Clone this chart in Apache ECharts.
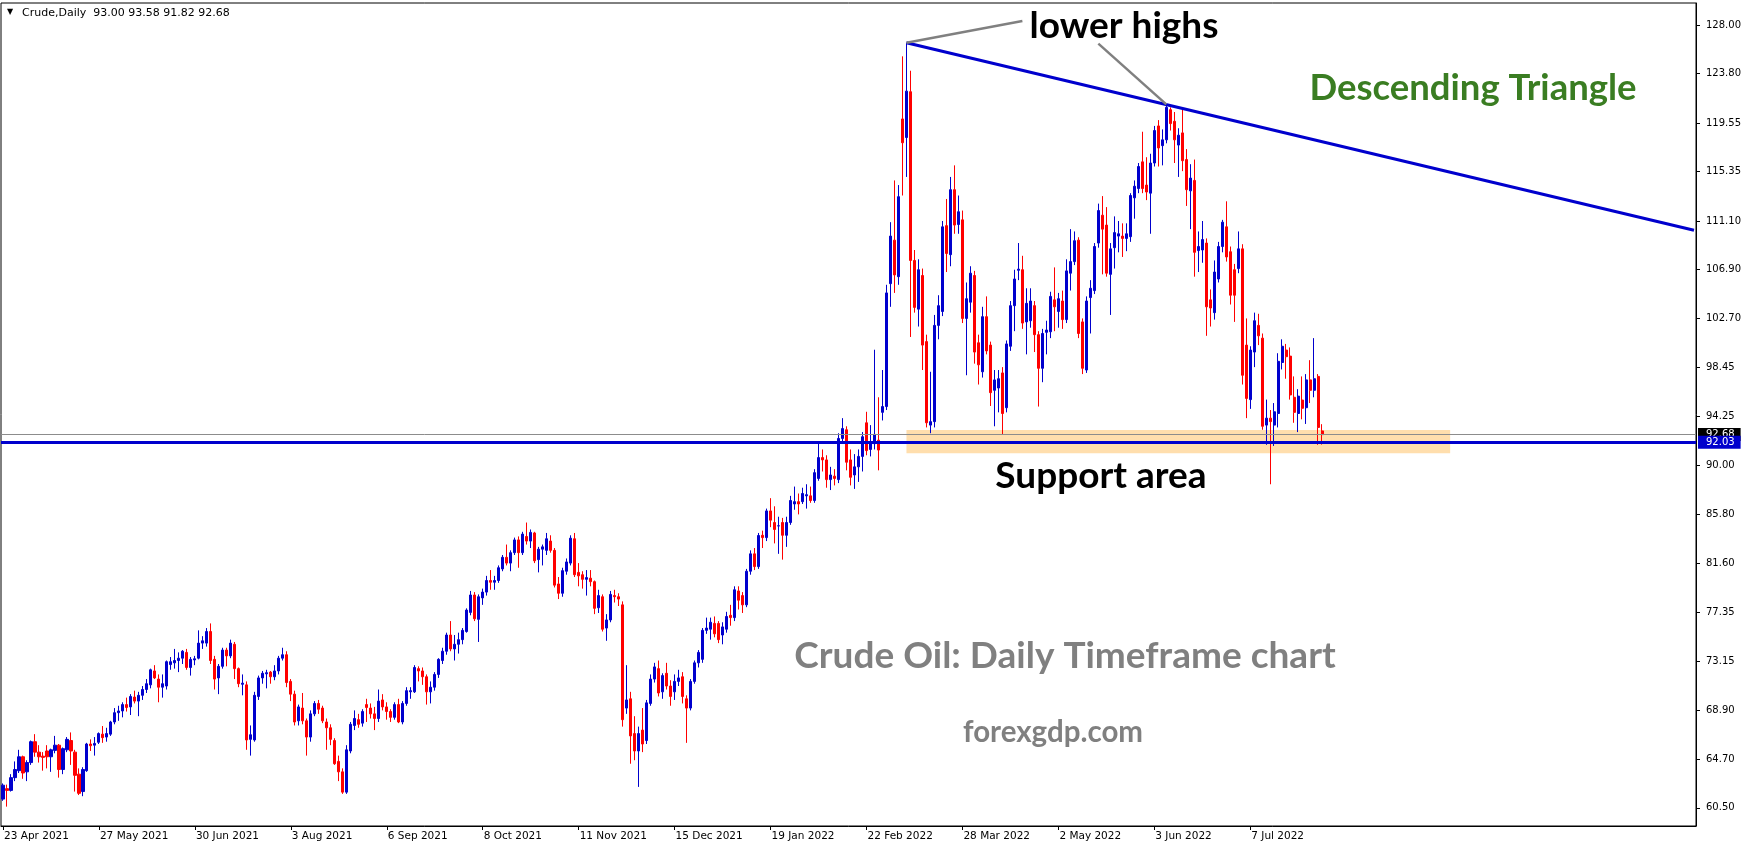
<!DOCTYPE html>
<html>
<head>
<meta charset="utf-8">
<script src="https://cdn.jsdelivr.net/npm/echarts@6/dist/echarts.min.js"></script>
<style>
html,body{margin:0;padding:0;background:#fff;}
#chart{width:1746px;height:850px;}
</style>
</head>
<body>
<div id="chart"></div>
<script>
// ---------- data ----------
const MONTHS = ['Jan','Feb','Mar','Apr','May','Jun','Jul','Aug','Sep','Oct','Nov','Dec'];
const startDate = '2021-04-23';
const skippedDays = ['2021-12-24', '2022-04-15'];
const slotCount = 424; // daily slots incl. empty space to the right
const xTickLabels = ['23 Apr 2021','27 May 2021','30 Jun 2021','3 Aug 2021','6 Sep 2021','8 Oct 2021',
  '11 Nov 2021','15 Dec 2021','19 Jan 2022','22 Feb 2022','28 Mar 2022','2 May 2022','3 Jun 2022','7 Jul 2022'];
const yTickValues = [60.50,64.70,68.90,73.15,77.35,81.60,85.80,90.00,94.25,98.45,102.70,106.90,111.10,115.35,119.55,123.80,128.00];

// rows: [open, high, low, close]
const ohlc = [
[61.25,62.6,61.1,62.45],[62.15,62.5,60.6,62.0],[62.0,63.4,61.9,63.1],[63.1,64.5,62.8,63.8],[63.7,65.5,63.5,64.9],
[64.9,65.0,63.0,63.5],[63.6,64.6,62.8,64.4],[64.4,66.3,64.2,66.2],[66.2,66.85,64.9,65.3],[65.3,65.9,64.4,64.9],
[64.95,65.3,63.7,64.85],[65.4,65.9,63.9,64.9],[64.9,65.6,63.6,65.5],[65.45,66.7,65.2,65.9],[65.9,66.0,63.1,63.8],
[63.8,65.7,63.4,65.6],[65.5,66.6,65.3,66.4],[66.3,67.0,64.2,65.4],[65.3,65.5,61.9,63.3],[63.4,63.9,61.6,61.75],
[61.9,64.0,61.5,63.8],[63.7,66.1,63.6,66.0],[66.0,66.4,65.4,65.85],[65.9,66.6,65.0,66.05],[66.15,67.0,66.0,66.9],
[66.85,67.55,66.1,66.55],[66.6,67.4,66.2,66.9],[66.85,68.0,66.7,67.9],[67.9,69.1,67.7,68.7],[68.7,69.3,68.0,68.85],
[68.85,69.6,68.3,69.4],[69.4,70.0,68.8,69.15],[69.2,70.3,68.5,70.1],[70.05,70.6,69.5,69.7],[69.7,70.5,68.4,70.2],
[70.2,71.0,69.8,70.7],[70.7,71.6,70.4,71.2],[71.1,72.5,70.8,72.4],[72.3,72.8,71.6,71.7],[71.6,72.0,69.6,70.9],
[70.9,72.0,70.0,71.2],[71.0,73.2,70.7,73.1],[72.85,73.5,72.4,73.1],[73.0,74.2,72.5,73.2],[73.2,73.9,72.2,73.4],
[73.4,74.1,72.9,74.0],[73.9,74.2,72.4,72.6],[72.6,73.5,71.9,73.3],[73.25,73.6,72.8,73.35],[73.4,75.8,73.3,74.7],
[74.7,75.3,74.2,74.9],[74.7,76.0,74.4,75.7],[75.7,76.4,72.9,73.2],[73.3,73.6,70.7,71.6],[71.7,72.9,70.3,72.7],
[72.7,74.3,72.5,74.1],[74.1,74.3,72.7,73.6],[73.6,75.0,73.4,74.7],[74.6,74.8,71.6,72.5],[72.5,72.6,70.9,71.2],
[71.15,72.0,70.2,71.25],[71.1,71.4,65.5,66.35],[66.4,67.6,65.0,66.8],[66.35,70.5,66.2,70.2],[70.1,71.9,69.8,71.7],
[71.7,72.3,71.2,72.1],[72.05,72.4,70.8,72.15],[72.2,72.3,71.2,71.8],[71.8,72.8,71.5,72.3],[72.3,73.6,72.0,73.4],
[73.4,74.3,73.2,73.7],[73.7,74.0,70.9,71.3],[71.4,71.6,69.7,70.3],[70.3,70.6,67.6,67.9],[68.0,69.4,67.6,69.2],
[69.1,70.4,67.7,68.0],[68.0,68.2,65.0,66.6],[66.6,68.9,66.2,68.6],[68.6,69.7,68.4,69.5],[69.5,69.8,68.6,69.0],
[69.1,69.3,67.8,68.0],[67.9,68.2,65.5,67.4],[67.4,67.7,65.9,66.4],[66.3,66.5,64.2,64.3],[64.5,65.0,62.8,63.6],
[63.6,63.9,61.7,61.85],[61.85,65.9,61.7,65.5],[65.4,67.9,65.2,67.7],[67.6,68.9,67.2,68.2],[68.1,68.6,67.4,67.7],
[67.8,69.0,67.5,68.8],[69.4,69.9,67.9,69.15],[69.1,69.5,68.2,68.6],[68.6,69.2,67.2,68.2],[68.2,70.7,67.9,69.7],
[69.8,70.3,68.9,69.2],[69.2,69.6,68.1,68.8],[68.8,69.0,67.9,68.3],[68.3,69.6,68.1,69.4],[69.4,69.9,67.8,67.9],
[67.9,69.7,67.7,69.5],[69.5,70.9,69.3,70.6],[70.5,70.9,69.9,70.6],[70.5,72.8,70.4,72.6],[72.5,72.7,71.4,72.3],
[72.3,72.6,71.1,71.8],[71.8,72.0,69.4,70.5],[70.5,71.4,69.5,70.9],[70.9,72.2,70.6,72.0],[72.0,73.4,71.7,73.3],
[73.2,74.3,72.9,74.0],[74.0,75.6,73.7,75.4],[75.4,76.6,74.0,74.2],[74.2,75.4,73.2,74.6],[74.6,75.6,73.8,75.0],
[75.0,76.0,74.6,75.8],[75.7,77.7,75.6,77.55],[77.35,79.2,77.1,78.85],[78.85,79.1,76.6,76.8],[76.75,78.9,74.8,78.7],
[78.6,79.4,78.0,79.1],[79.1,80.5,78.8,80.1],[80.1,81.0,79.3,79.95],[79.95,80.5,79.3,80.1],[80.1,81.4,79.9,81.2],
[81.1,82.3,80.9,82.1],[82.1,83.2,81.4,81.6],[81.6,82.7,80.9,82.5],[82.5,83.8,82.3,83.6],[83.6,83.9,81.2,82.5],
[82.5,84.3,82.3,84.1],[83.9,85.1,83.2,83.5],[83.5,84.5,82.9,84.25],[84.2,84.3,81.6,81.8],[81.9,83.0,80.8,82.8],
[82.8,83.2,81.4,83.0],[82.7,84.2,82.3,83.7],[83.5,84.0,82.5,82.7],[82.7,82.9,79.5,79.7],[79.8,80.4,78.5,79.0],
[79.0,81.2,78.7,80.95],[80.9,82.0,80.6,81.7],[81.6,84.0,81.4,83.75],[83.7,84.2,80.4,80.6],[80.8,81.6,79.6,80.5],
[80.6,80.9,79.4,80.2],[80.2,81.0,78.8,80.35],[80.3,81.0,79.6,80.0],[80.0,80.1,77.2,77.7],[77.75,79.3,77.3,78.8],
[78.7,78.9,75.7,75.9],[76.0,77.2,74.9,76.7],[76.7,79.2,76.5,78.9],[78.8,79.3,78.2,78.7],[78.7,79.0,77.9,78.5],
[78.0,78.3,67.5,68.1],[69.1,72.8,68.6,69.8],[69.9,70.5,64.3,66.7],[66.9,68.4,64.6,65.4],[65.4,67.5,62.3,66.9],
[67.2,69.1,65.3,66.0],[66.3,69.8,66.0,69.55],[69.5,72.0,69.3,71.6],[71.6,73.0,71.3,72.65],[72.5,73.2,70.1,70.4],
[70.5,72.1,69.9,71.9],[72.1,73.0,70.7,71.0],[71.0,71.5,69.3,70.1],[70.5,72.0,69.8,71.4],[71.4,72.4,71.0,71.7],
[71.8,72.2,69.5,70.1],[69.9,70.2,66.1,69.1],[69.1,71.6,68.9,71.4],[71.4,73.2,71.2,73.0],[73.0,74.1,72.6,73.9],
[73.3,76.0,73.0,75.8],[75.8,76.9,75.5,76.0],[75.9,76.9,75.0,76.5],[76.4,77.0,75.2,75.5],[76.4,76.6,74.7,75.0],
[75.4,76.5,74.6,76.1],[75.9,77.4,75.6,77.0],[77.1,78.0,76.2,76.9],[76.9,79.6,76.6,79.3],[79.2,79.6,77.6,78.4],
[78.8,79.1,77.3,78.0],[78.0,81.1,77.8,80.9],[80.9,82.7,80.6,82.4],[82.4,82.9,81.0,81.3],[81.3,84.2,81.1,83.98],
[84.0,84.4,82.9,83.8],[83.8,86.3,83.5,86.1],[86.1,87.2,84.7,85.3],[85.1,86.5,83.3,84.5],[84.8,85.6,82.4,84.82],
[85.1,85.5,81.9,84.0],[84.0,85.6,83.0,85.1],[85.1,87.4,84.9,87.0],[86.7,88.2,86.2,86.9],[86.9,87.6,85.8,86.7],
[86.9,88.1,86.7,87.6],[87.4,88.4,86.3,87.5],[87.4,88.2,86.8,87.0],[87.0,89.7,86.8,89.4],[88.9,91.9,88.7,90.7],
[90.7,91.4,89.5,90.5],[90.5,90.9,88.1,88.8],[88.8,89.9,87.9,89.2],[89.1,89.7,88.3,88.9],[88.8,92.8,88.5,92.35],
[92.35,94.1,92.0,93.2],[93.1,93.4,89.6,90.3],[90.5,91.4,88.3,89.0],[89.2,91.0,88.0,89.9],[89.9,91.4,88.6,90.8],
[90.8,92.9,89.5,92.5],[93.7,94.65,90.9,91.3],[91.4,93.5,90.8,91.9],[91.9,100.0,91.4,92.7],[92.2,95.9,89.6,91.35],
[94.6,98.25,93.9,95.1],[95.1,105.6,94.8,104.9],[105.7,111.0,103.7,109.8],[109.45,114.6,104.9,106.45],[106.3,114.2,105.6,113.2],
[119.9,125.3,113.3,117.85],[118.3,126.47,114.9,122.3],[122.25,124.06,101.1,107.7],[107.7,108.6,103.2,103.65],[103.5,107.8,102.0,106.9],
[106.4,107.0,98.25,100.4],[100.7,101.3,93.3,93.7],[93.5,98.1,92.8,93.8],[93.8,103.0,93.3,102.1],[102.1,104.7,100.9,103.8],
[103.3,111.1,102.9,110.6],[110.7,113.0,106.7,108.3],[108.2,114.9,107.2,113.8],[113.8,115.9,110.0,110.75],[110.8,113.3,110.0,111.9],
[111.2,112.0,102.3,102.7],[102.7,105.8,97.8,104.4],[104.1,107.2,103.2,106.6],[106.4,106.8,98.8,99.8],[100.6,101.3,97.0,98.7],
[98.1,103.7,97.6,102.85],[102.85,104.6,99.6,99.9],[100.4,100.7,95.15,96.3],[96.5,98.25,93.4,97.4],[96.7,98.25,94.6,97.5],
[98.0,98.5,92.65,94.5],[95.0,100.8,94.6,100.5],[100.3,104.2,99.9,103.8],[103.8,106.9,101.6,106.1],[106.85,109.2,106.0,106.95],
[106.9,108.1,101.8,102.3],[102.4,105.3,99.6,104.0],[102.5,105.3,101.9,104.2],[103.8,104.2,99.8,101.3],[101.3,101.6,95.1,98.4],
[98.4,101.8,97.2,101.4],[101.5,102.5,99.6,101.7],[101.55,105.0,101.0,104.6],[104.3,107.1,101.6,103.7],[103.3,104.9,101.9,104.4],
[104.2,105.1,101.8,102.6],[102.6,107.8,102.3,106.8],[106.6,110.4,105.1,107.6],[107.6,110.2,107.3,109.4],[109.45,109.7,101.0,101.4],
[102.4,102.7,97.9,98.4],[98.25,104.6,98.0,104.2],[104.5,106.0,101.4,105.3],[105.1,109.2,104.8,108.9],[109.2,112.6,108.8,112.0],
[111.6,113.25,106.5,110.4],[110.75,112.3,106.3,106.6],[106.5,109.2,103.0,108.7],[108.8,111.5,107.0,110.1],[109.8,111.1,108.4,110.0],
[109.8,110.9,108.0,109.6],[109.6,110.9,108.5,110.0],[109.75,113.5,109.3,113.3],[113.1,114.6,111.3,114.1],[113.9,116.1,113.5,115.8],
[116.2,118.8,113.5,113.9],[114.2,116.6,112.9,113.6],[113.5,116.9,110.0,116.1],[116.1,119.3,115.8,118.9],[119.3,119.8,115.8,117.4],
[117.6,119.0,115.9,118.1],[118.1,121.16,117.8,120.9],[120.7,120.9,118.9,119.5],[119.7,120.5,116.1,118.1],[117.65,119.1,114.9,118.5],
[118.7,120.9,115.4,116.3],[116.4,117.3,112.4,113.8],[113.7,116.0,110.4,114.8],[114.6,116.4,106.3,108.4],[108.55,110.2,106.7,108.9],
[108.6,111.1,107.5,109.5],[109.2,109.6,101.2,103.7],[104.3,105.2,102.0,103.6],[103.2,107.7,102.6,106.7],[106.1,109.3,105.8,108.9],
[108.9,111.2,108.4,111.0],[110.6,112.8,107.6,108.0],[108.45,108.9,103.9,104.7],[106.9,107.4,102.4,104.7],[107.0,110.2,106.6,108.7],
[108.7,109.1,97.0,97.8],[100.4,102.7,94.1,95.8],[95.7,100.3,94.9,99.97],[99.8,103.2,98.5,102.5],[102.1,103.1,100.4,101.2],
[101.0,101.4,93.1,93.4],[93.5,95.7,91.8,94.1],[94.1,94.8,88.4,93.8],[93.5,95.4,91.7,94.65],[94.5,99.7,93.3,99.0],
[98.9,100.9,98.3,100.3],[99.97,100.5,97.5,99.4],[99.45,100.2,95.7,96.1],[95.9,97.7,93.7,94.6],[94.5,96.6,92.9,96.0],
[95.66,97.7,94.0,94.95],[95.0,97.9,93.6,97.4],[97.4,99.1,95.4,96.5],[96.5,101.0,95.9,97.5],[97.7,97.9,91.8,93.3],
[93.0,93.58,91.82,92.68]
];

const bidPrice = 92.68;
const supportLevel = 92.03;
const supportZone = { fromIdx: 226, toIdx: 362, top: 93.07, bottom: 91.07 };
const trendLine = [[226, 126.47], [423, 110.3]];
const pointer1 = [[226, 126.47], [255, 128.34]];
const pointer2 = [[274, 126.4], [291, 121.16]];
const header = 'Crude,Daily  93.00 93.58 91.82 92.68';

// ---------- build ----------
function weekdayDates(startISO, count, skips) {
  const out = [];
  const d = new Date(startISO + 'T00:00:00Z');
  while (out.length < count) {
    const wd = d.getUTCDay();
    const iso = d.toISOString().slice(0, 10);
    if (wd !== 0 && wd !== 6 && skips.indexOf(iso) < 0) {
      out.push(d.getUTCDate() + ' ' + MONTHS[d.getUTCMonth()] + ' ' + d.getUTCFullYear());
    }
    d.setUTCDate(d.getUTCDate() + 1);
  }
  return out;
}
const categories = weekdayDates(startDate, slotCount, skippedDays);
const candleData = ohlc.map(r => [r[0], r[3], r[2], r[1]]);
const showTick = (idx, val) => xTickLabels.indexOf(val) >= 0;

const BLUE = '#0000CD';
const RED = '#FF0000';
const chart = echarts.init(document.getElementById('chart'), null, { renderer: 'canvas' });

const option = {
  animation: false,
  backgroundColor: '#fff',
  textStyle: { fontFamily: 'DejaVu Sans' },
  grid: { left: 1, right: 50, top: 3, bottom: 24, show: true, borderColor: '#000', borderWidth: 1, backgroundColor: '#fff' },
  xAxis: {
    type: 'category',
    data: categories,
    boundaryGap: true,
    axisLine: { show: true, lineStyle: { color: '#000', width: 1 } },
    axisTick: { show: true, alignWithLabel: true, interval: showTick, length: 4, lineStyle: { color: '#000' } },
    axisLabel: { interval: showTick, align: 'left', margin: 5, fontSize: 10.5, color: '#000', fontFamily: 'DejaVu Sans', padding: [0, 0, 0, 1] },
    splitLine: { show: false }
  },
  yAxis: {
    type: 'value',
    position: 'right',
    min: 58.93,
    max: 129.9,
    axisLine: { show: true, lineStyle: { color: '#000', width: 1 } },
    axisTick: { show: true, length: 4, customValues: yTickValues, lineStyle: { color: '#000' } },
    axisLabel: { customValues: yTickValues, formatter: v => v.toFixed(2), margin: 10, fontSize: 10, color: '#000', fontFamily: 'DejaVu Sans' },
    splitLine: { show: false }
  },
  series: [
    {
      name: 'zone', type: 'line', data: [], z: 1, silent: true,
      markArea: {
        silent: true,
        itemStyle: { color: '#FFDEAD' },
        data: [[{ xAxis: supportZone.fromIdx, yAxis: supportZone.top }, { xAxis: supportZone.toIdx, yAxis: supportZone.bottom }]]
      }
    },
    {
      name: 'Crude', type: 'candlestick', data: candleData, z: 2,
      barWidth: 2.6,
      itemStyle: { color: BLUE, color0: RED, borderColor: BLUE, borderColor0: RED, borderWidth: 1 }
    },
    {
      name: 'levels', type: 'line', data: [], z: 5, silent: true,
      markLine: {
        silent: true, symbol: ['none', 'none'], animation: false,
        data: [
          { yAxis: bidPrice, lineStyle: { color: '#8c8c8c', width: 1, type: 'solid' },
            label: { show: true, position: 'end', distance: 2, formatter: bidPrice.toFixed(2), color: '#fff', backgroundColor: '#000',
                     padding: [1, 6, 1, 8], fontSize: 10, lineHeight: 11, fontFamily: 'DejaVu Sans' } },
          { yAxis: supportLevel, lineStyle: { color: BLUE, width: 3, type: 'solid' },
            label: { show: true, position: 'end', distance: 2, formatter: supportLevel.toFixed(2), color: '#fff', backgroundColor: BLUE,
                     padding: [1, 6, 1, 8], fontSize: 10, lineHeight: 11, fontFamily: 'DejaVu Sans' } }
        ]
      }
    },
    { name: 'trend', type: 'line', data: trendLine, z: 6, showSymbol: false, symbol: 'none', silent: true,
      lineStyle: { color: BLUE, width: 3 } },
    { name: 'p1', type: 'line', data: pointer1, z: 6, showSymbol: false, symbol: 'none', silent: true,
      lineStyle: { color: '#808080', width: 2.5 } },
    { name: 'p2', type: 'line', data: pointer2, z: 6, showSymbol: false, symbol: 'none', silent: true,
      lineStyle: { color: '#808080', width: 2.5 } }
  ],
  graphic: [
    { type: 'text', x: 7, y: 12, z: 20, style: { text: '▼', fontSize: 8, fill: '#000', fontFamily: 'DejaVu Sans', textVerticalAlign: 'middle' } },
    { type: 'text', x: 22, y: 13, z: 20, style: { text: header, fontSize: 11, fill: '#000', fontFamily: 'DejaVu Sans', textVerticalAlign: 'middle' } },
    { type: 'text', x: 1124, y: 26, z: 20, style: { text: 'lower highs', font: 'bold 37px Lato', fill: '#000', textAlign: 'center', textVerticalAlign: 'middle' } },
    { type: 'text', x: 1473, y: 88, z: 20, style: { text: 'Descending Triangle', font: 'bold 36.5px Lato', fill: '#3A7D22', textAlign: 'center', textVerticalAlign: 'middle' } },
    { type: 'text', x: 1101, y: 476, z: 20, style: { text: 'Support area', font: 'bold 37px Lato', fill: '#000', textAlign: 'center', textVerticalAlign: 'middle' } },
    { type: 'text', x: 1065, y: 656, z: 20, style: { text: 'Crude Oil: Daily Timeframe chart', font: 'bold 37px Lato', fill: '#808080', textAlign: 'center', textVerticalAlign: 'middle' } },
    { type: 'text', x: 1053, y: 732, z: 20, style: { text: 'forexgdp.com', font: 'bold 29.5px Lato', fill: '#808080', textAlign: 'center', textVerticalAlign: 'middle' } }
  ]
};
chart.setOption(option);
</script>
</body>
</html>
